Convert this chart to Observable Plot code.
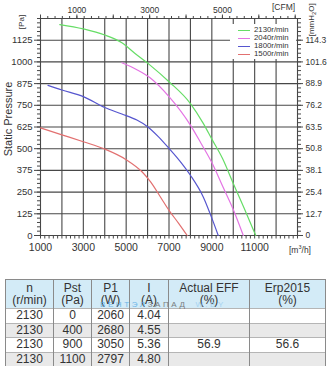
<!DOCTYPE html>
<html><head><meta charset="utf-8">
<script src="https://cdn.jsdelivr.net/npm/d3@7"></script>
<script src="https://cdn.jsdelivr.net/npm/@observablehq/plot@0.6"></script>
<style>
body{margin:0;background:#fff;font-family:"Liberation Sans",Arial,sans-serif;color:#333;}
#wrap{position:relative;width:331px;height:367px;overflow:hidden;background:#fff;}
#chart{position:absolute;left:0;top:0;}
.rot{position:absolute;transform-origin:center center;white-space:nowrap;color:#333;}
#legend{position:absolute;left:230px;top:24px;width:66px;height:35px;background:#fff;}
.lg{position:absolute;left:0;height:8px;font-size:7.8px;line-height:8px;color:#333;}
.lg i{position:absolute;left:8px;top:4px;width:12px;height:0;border-top:1.2px solid;}
.lg span{position:absolute;left:24px;top:0;}
#tbl{position:absolute;left:5px;top:279px;width:320px;border-collapse:collapse;table-layout:fixed;font-size:12px;color:#333;}
#tbl td,#tbl th{border-left:1px solid #8a8a8a;border-right:1px solid #8a8a8a;border-top:1px solid #b5b5b5;text-align:center;padding:0;font-weight:normal;}
#tbl th{background:#d3ebf7;height:28px;line-height:12.5px;border-top:1px solid #8a8a8a;}
#tbl td{height:13.6px;line-height:13px;}
#tbl tr.g td{background:#e9e9e9;}
#wm{position:absolute;left:100px;top:300px;font-size:8px;letter-spacing:2.6px;white-space:nowrap;opacity:0.85;}
</style></head><body>
<div id="wrap">
  <div id="chart"></div>
</div>
<script>
// ---------- data ----------
const speeds = ["2130r/min", "2040r/min", "1800r/min", "1500r/min"];
const colors = ["#66dd66", "#e474e4", "#5656cf", "#e27070"];

const flow2130 = [1900, 3000, 4000, 4800, 5400, 6100, 7000, 8000, 8600, 9000, 9500, 10000, 10500, 11050];
const pres2130 = [1215, 1190, 1155, 1110, 1050, 983, 886, 760, 646, 555, 443, 300, 160, 0];

const flow2040 = [4800, 5500, 6100, 7000, 8000, 8500, 9000, 9500, 10000, 10470];
const pres2040 = [995, 955, 910, 800, 636, 530, 420, 285, 150, 0];

const flow1800 = [1350, 2000, 3000, 4000, 4800, 5500, 6000, 6500, 7000, 7500, 8000, 8600, 9000, 9300];
const pres1800 = [865, 838, 800, 737, 700, 665, 627, 570, 502, 430, 347, 222, 100, 0];

const flow1500 = [1000, 2000, 3000, 4000, 5000, 5750, 6150, 6600, 7000, 7450, 7850];
const pres1500 = [620, 580, 540, 498, 437, 366, 308, 222, 145, 70, 0];

// axes / ticks
const xGrid = [1000, 2000, 3000, 4000, 5000, 6000, 7000, 8000, 9000, 10000, 11000, 12000, 13000];
const xLabels = [1000, 3000, 5000, 7000, 9000, 11000];
const yGrid = [0, 125, 250, 375, 500, 625, 750, 875, 1000, 1125, 1250];
const yLabels = [0, 125, 250, 375, 500, 625, 750, 875, 1000, 1125];
const mmLabels = ["0", "12.7", "25.4", "38.1", "50.8", "63.5", "76.2", "88.9", "101.6", "114.3"];
const cfmLabels = [1000, 3000, 5000];
const cfmMajor = [0, 1000, 2000, 3000, 4000, 5000, 6000, 7000];
const M3H_PER_CFM = 1.699;
const CFM_ORIGIN = 1000; // top CFM axis starts at the left edge

// table
const tHead = [["n", "(r/min)"], ["Pst", "(Pa)"], ["P1", "(W)"], ["I", "(A)"], ["Actual EFF", "(%)"], ["Erp2015", "(%)"]];
const tN = ["2130", "2130", "2130", "2130"];
const tPst = ["0", "400", "900", "1100"];
const tP1 = ["2060", "2680", "3050", "2797"];
const tI = ["4.04", "4.55", "5.36", "4.80"];
const tEff = ["", "", "56.9", ""];
const tErp = ["", "", "56.6", ""];

// ---------- build ----------
const series = [
  {name: speeds[0], q: flow2130, p: pres2130},
  {name: speeds[1], q: flow2040, p: pres2040},
  {name: speeds[2], q: flow1800, p: pres1800},
  {name: speeds[3], q: flow1500, p: pres1500}
];
const rows = series.flatMap(s => s.q.map((q, i) => ({s: s.name, q, p: s.p[i]})));

const xMinor = d3.range(1000, 13001, 200);
const yMinor = d3.range(0, 1251, 25);
const cfmToM3h = c => CFM_ORIGIN + c * M3H_PER_CFM;
const cfmMinor = d3.range(0, 7001, 200).map(cfmToM3h).filter(v => v <= 13000);
const gridStroke = "#474747";

const chart = Plot.plot({
  width: 331, height: 262,
  marginLeft: 40, marginRight: 34, marginTop: 18, marginBottom: 27,
  x: {domain: [1000, 13000]},
  y: {domain: [0, 1250]},
  color: {domain: speeds, range: colors},
  style: {fontFamily: "'Liberation Sans', Arial, sans-serif", fontSize: "10px", color: "#333", background: "transparent", overflow: "visible"},
  marks: [
    Plot.ruleX(xGrid, {stroke: gridStroke, strokeWidth: 1.1}),
    Plot.ruleY(yGrid, {stroke: gridStroke, strokeWidth: 1.1}),
    Plot.line(rows, {x: "q", y: "p", z: "s", stroke: "s", strokeWidth: 1.2, curve: "monotone-x"}),
    // bottom
    Plot.axisX({anchor: "bottom", ticks: xMinor, tickSize: 3.5, tickFormat: () => "", label: null, stroke: gridStroke}),
    Plot.axisX({anchor: "bottom", ticks: xLabels, tickSize: 0, tickPadding: 8, fontSize: 10.5, label: null, tickFormat: d => String(d)}),
    // top (CFM)
    Plot.axisX({anchor: "top", ticks: cfmMinor, tickSize: 3, tickFormat: () => "", label: null, stroke: gridStroke}),
    Plot.axisX({anchor: "top", ticks: cfmMajor.map(cfmToM3h), tickSize: 4.5, tickFormat: () => "", label: null, stroke: gridStroke}),
    Plot.axisX({anchor: "top", ticks: cfmLabels.map(cfmToM3h), tickSize: 0, tickPadding: 6, fontSize: 8.5, label: null,
      tickFormat: d => String(Math.round((d - CFM_ORIGIN) / M3H_PER_CFM))}),
    // left (Pa)
    Plot.axisY({anchor: "left", ticks: yMinor, tickSize: 3, tickFormat: () => "", label: null, stroke: gridStroke}),
    Plot.axisY({anchor: "left", ticks: yLabels, tickSize: 6, tickPadding: 2, fontSize: 9.5, label: null, stroke: gridStroke,
      tickFormat: d => String(d)}),
    // right (mmH2O)
    Plot.axisY({anchor: "right", ticks: yMinor, tickSize: 3, tickFormat: () => "", label: null, stroke: gridStroke}),
    Plot.axisY({anchor: "right", ticks: yLabels, tickSize: 5, tickPadding: 3, fontSize: 8.5, label: null, stroke: gridStroke,
      tickFormat: d => mmLabels[yLabels.indexOf(d)]})
  ]
});
const wrap = document.getElementById("wrap");
document.getElementById("chart").appendChild(chart);

// ---------- extra text labels ----------
function addText(html, css) {
  const d = document.createElement("div");
  d.className = "rot";
  d.innerHTML = html;
  Object.assign(d.style, css);
  wrap.appendChild(d);
  return d;
}
addText("Static Pressure", {left: "-34px", top: "113px", width: "84px", textAlign: "center", fontSize: "11px", transform: "rotate(-90deg)", lineHeight: "12px"});
addText("[Pa]", {left: "10px", top: "17px", width: "24px", textAlign: "center", fontSize: "8px", transform: "rotate(-90deg)", lineHeight: "10px"});
addText("[mmH<sub style='font-size:6px'>2</sub>O]", {left: "297px", top: "14px", width: "32px", textAlign: "center", fontSize: "8px", transform: "rotate(-90deg)", lineHeight: "10px"});
addText("[CFM]", {left: "272px", top: "2px", fontSize: "8.5px", lineHeight: "10px"});
addText("[m<sup style='font-size:5.5px'>3</sup>/h]", {left: "289px", top: "242px", fontSize: "8.5px", lineHeight: "10px"});

// legend
const lg = document.createElement("div");
lg.id = "legend";
speeds.forEach((s, i) => {
  const r = document.createElement("div");
  r.className = "lg";
  r.style.top = (1.5 + i * 8.2) + "px";
  r.innerHTML = `<i style="border-color:${colors[i]}"></i><span>${s}</span>`;
  lg.appendChild(r);
});
wrap.appendChild(lg);

// table
const tbl = document.createElement("table");
tbl.id = "tbl";
const colW = [48, 38, 38, 39, 81, 76];
const cg = document.createElement("colgroup");
colW.forEach(w => { const c = document.createElement("col"); c.style.width = w + "px"; cg.appendChild(c); });
tbl.appendChild(cg);
const hr = document.createElement("tr");
tHead.forEach(h => { const th = document.createElement("th"); th.innerHTML = h[0] + "<br>" + h[1]; hr.appendChild(th); });
tbl.appendChild(hr);
tN.forEach((n, i) => {
  const tr = document.createElement("tr");
  if (i % 2 === 1) tr.className = "g";
  [n, tPst[i], tP1[i], tI[i], tEff[i], tErp[i]].forEach(v => { const td = document.createElement("td"); td.textContent = v; tr.appendChild(td); });
  tbl.appendChild(tr);
});
wrap.appendChild(tbl);

// watermark
const wm = document.createElement("div");
wm.id = "wm";
wm.innerHTML = "<span style='color:#5aaee6'>ВЕНТЭЛ</span><span style='color:#6a6a6a'>ЗАПАД</span><span style='color:#9fd0f0;margin-left:8px'>W.BY</span>";
wrap.appendChild(wm);
</script>
</body></html>
